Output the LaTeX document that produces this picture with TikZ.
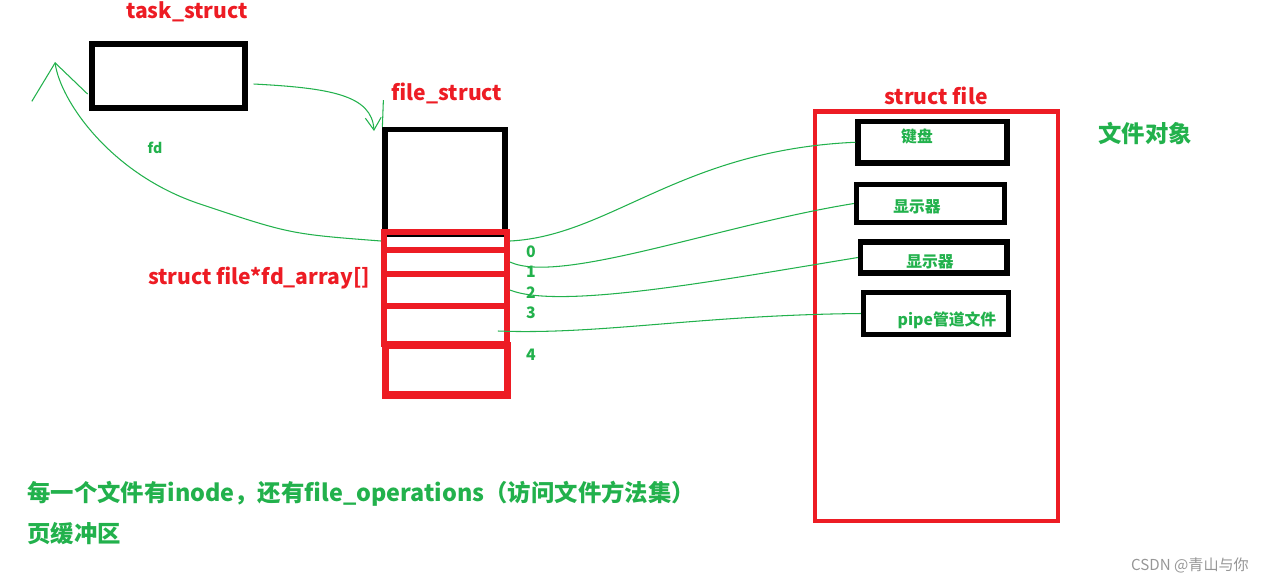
\documentclass[tikz,border=0pt]{standalone}
\usepackage{fontspec}
\setmainfont{Noto Sans CJK SC}
\usetikzlibrary{positioning, arrows.meta}
\definecolor{penred}{RGB}{237,28,36}
\definecolor{pengreen}{RGB}{34,177,76}
\definecolor{markgray}{RGB}{150,150,150}
\tikzset{
  blackbox/.style={draw=black, line width=3pt, inner sep=0pt},
  slotbox/.style={draw=penred, line width=3.3pt, minimum width=2.46cm, inner sep=0pt},
  redtitle/.style={text=penred, font=\bfseries\fontsize{12}{14}\selectfont, inner sep=0pt},
  greentext/.style={text=pengreen, font=\bfseries\fontsize{9}{11}\selectfont, inner sep=0pt},
  bigtext/.style={text=pengreen, font=\bfseries\fontsize{13.3}{16}\selectfont, inner sep=0pt},
  pen/.style={draw=pengreen, line width=0.6pt},
}

\begin{document}
\begin{tikzpicture}[x=0.02cm, y=-0.02cm]
\useasboundingbox (0,0) rectangle (1274,583);

% task_struct and file_struct
\node[redtitle] (tasklabel) at (187,12) {task\_struct};
\node[blackbox, minimum width=3.06cm, minimum height=1.28cm] (task) at (168.5,76) {};
\node[redtitle] (filestructlabel) at (447,93) {file\_struct};
\node[blackbox, minimum width=2.4cm, minimum height=2.09cm] (filestruct) at (445,182) {};

% fd_array slots
\foreach \i/\ya/\yb in {0/232/250, 1/250/274, 2/274/306, 3/306/344}
  \node[slotbox, minimum height={(\yb-\ya)*0.02cm}] (slot\i) at (445.5,{(\ya+\yb)/2}) {};
\node[slotbox, line width=4pt, minimum width=2.44cm, minimum height=1cm] (slot4) at (446.5,370) {};
\node[redtitle] (fdarraylabel) at (259,278) {struct file*fd\_array[]};
\foreach \n/\y in {0/252, 1/272, 2/293, 3/313, 4/355}
  \node[greentext] (num\n) at (531,\y) {\n};

% struct file table
\node[draw=penred, line width=2.8pt, minimum width=4.86cm, minimum height=8.2cm] (filetable) at (936.5,316) {};
\node[redtitle] (filetablelabel) at (936,96) {struct file};
\node[bigtext] (objlabel) at (1145,133) {文件对象};

\node[blackbox, minimum width=2.98cm, minimum height=0.83cm] (keyboard) at (932.5,142.25) {};
\node[greentext] (keyboardtext) at (917,137) {键盘};
\node[blackbox, minimum width=2.96cm, minimum height=0.76cm] (screenA) at (930.5,203.5) {};
\node[greentext] (screenAtext) at (917,207) {显示器};
\node[blackbox, minimum width=2.93cm, minimum height=0.62cm] (screenB) at (933.75,257.5) {};
\node[greentext] (screenBtext) at (930,262) {显示器};
\node[blackbox, minimum width=2.9cm, minimum height=0.84cm] (pipe) at (936,313.5) {};
\node[greentext] (pipetext) at (947,320) {pipe管道文件};

% hand drawn links
\coordinate (fdtip) at (55,62);
\coordinate (fdbend) at (200,204);
\coordinate (filetip) at (374,131);
\draw[pen, -{Straight Barb[length=20pt,width=32pt]}] (slot0.west) .. controls (290,234) .. (fdbend) .. controls (110,174) and (60,100) .. (fdtip);
\node[greentext, font=\bfseries\fontsize{8}{10}\selectfont] (fdlabel) at (155,148) {fd};
\draw[pen, -{Straight Barb[length=7pt,width=9pt]}] ([shift={(6,8)}]task.east) .. controls (330,88) and (372,95) .. (filetip);
\draw[pen] ([shift={(1,-27)}]filestruct.north west) -- (filestruct.north west);
\draw[pen] (slot0.east) .. controls (610,236) and (680,150) .. (keyboard.west);
\draw[pen] (slot1.east) .. controls (560,285) and (720,225) .. (screenA.west);
\draw[pen] (slot2.east) .. controls (560,310) and (720,280) .. (screenB.west);
\draw[pen] ([shift={(-12,6)}]slot3.east) .. controls (600,335) and (700,315) .. (pipe.west);

% notes
\node[bigtext, anchor=west] (noteA) at (27,494) {每一个文件有inode，还有file\_operations（访问文件方法集）};
\node[bigtext, anchor=west] (noteB) at (27,534) {页缓冲区};
\node[text=markgray, font=\fontsize{8.6}{10}\selectfont, inner sep=0pt] (mark) at (1190,565) {CSDN @青山与你};
\end{tikzpicture}
\end{document}
